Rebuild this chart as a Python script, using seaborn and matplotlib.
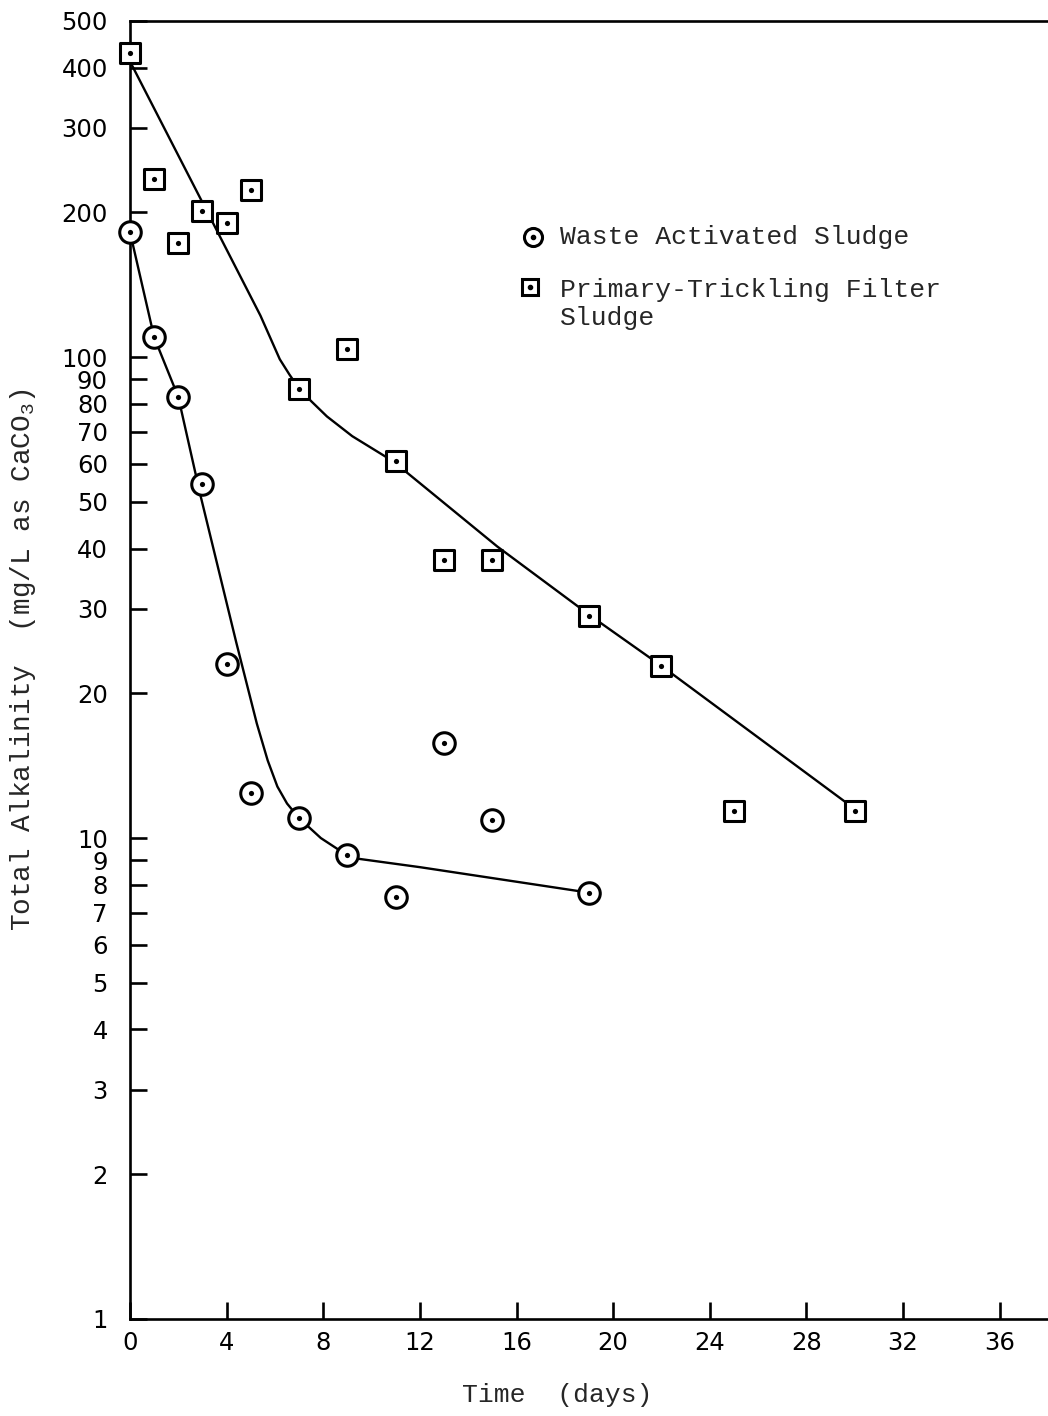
import matplotlib
matplotlib.use("Agg")
import matplotlib.pyplot as plt
import matplotlib.transforms as mtransforms
from matplotlib.ticker import FixedLocator, FixedFormatter, NullLocator
import seaborn as sns

# Waste activated sludge: measured alkalinity (mg/L as CaCO3) vs. time (days)
was_days = [0, 1, 2, 3, 4, 5, 7, 9, 11, 13, 15, 19]
was_alk = [182, 110, 82.6, 54.4, 23.0, 12.4, 11.0, 9.2, 7.55, 15.8, 10.9, 7.7]

# Primary-trickling filter sludge: measured alkalinity vs. time
ptf_days = [0, 1, 2, 3, 4, 5, 7, 9, 11, 13, 15, 19, 22, 25, 30]
ptf_alk = [428, 235, 173, 201, 190, 223, 86, 104, 60.7, 37.8, 37.8, 28.9, 22.8, 11.4, 11.4]

# Hand-drawn trend curves through each data set
was_curve_days = [0, 1, 2, 2.9, 4.4, 5.25, 5.7, 6.1, 6.5, 7.0, 7.9, 9.0, 9.5, 12.0, 19.0]
was_curve_alk = [182, 110, 82.6, 52, 25.5, 17.3, 14.5, 12.8, 11.8, 11.0, 10.0, 9.2, 9.05, 8.7, 7.7]
ptf_curve_days = [0, 3.3, 5.4, 6.2, 6.6, 7.0, 7.5, 8.15, 9.2, 10.9, 15.2, 19.1, 22.0, 30.1]
ptf_curve_alk = [412, 196, 122, 99, 92, 86, 81, 75.3, 68.5, 60.7, 40.4, 28.9, 22.8, 11.4]

# Axis ticks
x_ticks = [0, 4, 8, 12, 16, 20, 24, 28, 32, 36]
y_ticks = [1, 2, 3, 4, 5, 6, 7, 8, 9, 10, 20, 30, 40, 50, 60, 70, 80, 90,
           100, 200, 300, 400, 500]
y_tick_labels = [str(v) for v in y_ticks]

sns.set_style("white")
MONO = "Liberation Mono"
plt.rcParams["font.family"] = ["DejaVu Sans"]
plt.rcParams["mathtext.fontset"] = "custom"
plt.rcParams["mathtext.rm"] = MONO
plt.rcParams["mathtext.it"] = MONO

fig = plt.figure(figsize=(10.48, 14.16), dpi=100)
ax = fig.add_axes([130 / 1048, 97 / 1416, 918 / 1048, 1298 / 1416])
ax.set_yscale("log")
ax.set_xlim(0, 38.0)
ax.set_ylim(1, 500)

lw_line = 1.7
sns.lineplot(x=was_curve_days, y=was_curve_alk, sort=False, estimator=None,
             color="black", lw=lw_line, ax=ax, zorder=2)
sns.lineplot(x=ptf_curve_days, y=ptf_curve_alk, sort=False, estimator=None,
             color="black", lw=lw_line, ax=ax, zorder=2)

# Open markers with a centre dot
sns.scatterplot(x=was_days, y=was_alk, marker="o", s=240, facecolor="white",
                edgecolor="black", linewidth=2.2, ax=ax, zorder=3, clip_on=False)
sns.scatterplot(x=ptf_days, y=ptf_alk, marker="s", s=210, facecolor="white",
                edgecolor="black", linewidth=2.2, ax=ax, zorder=3, clip_on=False)
sns.scatterplot(x=was_days + ptf_days, y=was_alk + ptf_alk, marker="o", s=14,
                color="black", edgecolor="black", linewidth=0, ax=ax, zorder=4,
                clip_on=False)

# Axes frame: left, bottom and top lines only
for side in ["left", "bottom", "top"]:
    ax.spines[side].set_visible(True)
    ax.spines[side].set_color("black")
    ax.spines[side].set_linewidth(1.9)
ax.spines["right"].set_visible(False)

ax.xaxis.set_major_locator(FixedLocator(x_ticks))
ax.set_xticklabels([str(t) for t in x_ticks])
ax.yaxis.set_major_locator(FixedLocator(y_ticks))
ax.yaxis.set_major_formatter(FixedFormatter(y_tick_labels))
ax.yaxis.set_minor_locator(NullLocator())
ax.xaxis.set_minor_locator(NullLocator())

ax.tick_params(axis="y", which="major", direction="in", length=12, width=1.9,
               labelsize=17.5, pad=16, colors="black", left=True, right=False)
ax.tick_params(axis="x", which="major", direction="in", length=12, width=1.9,
               labelsize=17.5, pad=9, colors="black", bottom=True, top=False)

# Crowded labels near each decade sit a little higher than their ticks
shift = {"100": 12, "90": 8, "10": 12, "9": 8}
for tick in ax.yaxis.get_major_ticks():
    txt = tick.label1.get_text()
    if txt in shift:
        tick.label1.set_transform(
            tick.label1.get_transform()
            + mtransforms.ScaledTranslation(0, shift[txt] / 100, fig.dpi_scale_trans))

ax.set_xlabel("Time  (days)", fontsize=19, family=MONO)
ax.xaxis.set_label_coords(0.465, -0.049)
ax.set_ylabel(r"Total Alkalinity  (mg/L as CaCO$_3$)", fontsize=20, family=MONO)
ax.yaxis.set_label_coords(-0.10, 0.508)

# Key
ax.plot([0.439], [0.8336], marker="o", ms=13, mfc="white", mec="black", mew=2.2,
        transform=ax.transAxes, clip_on=False)
ax.plot([0.439], [0.8336], marker="o", ms=3, color="black", transform=ax.transAxes)
ax.text(0.4684, 0.8336, "Waste Activated Sludge", fontsize=19, family=MONO,
        va="center", ha="left", transform=ax.transAxes)
ax.plot([0.4357], [0.795], marker="s", ms=12, mfc="white", mec="black", mew=2.2,
        transform=ax.transAxes, clip_on=False)
ax.plot([0.4357], [0.795], marker="o", ms=3, color="black", transform=ax.transAxes)
ax.text(0.4684, 0.782, "Primary-Trickling Filter\nSludge", fontsize=19, family=MONO,
        va="center", ha="left", linespacing=1.2, transform=ax.transAxes)

fig.savefig("out.png", dpi=100, facecolor="white")
